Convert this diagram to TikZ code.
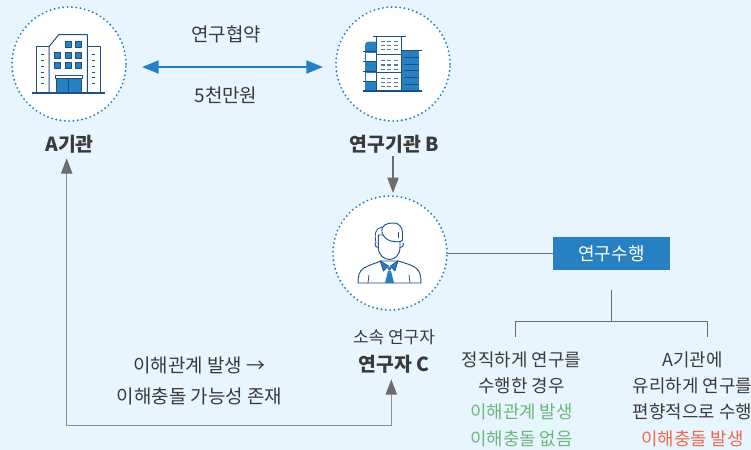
\documentclass[tikz,border=0pt]{standalone}
\usepackage{xcolor}
\usepackage{fontspec}
\usetikzlibrary{arrows.meta}
\setmainfont{Noto Sans CJK KR}
\definecolor{skybg}{HTML}{E7F5FE}
\definecolor{iconblue}{HTML}{2680C2}
\definecolor{icondark}{HTML}{1D4F86}
\definecolor{inkgray}{HTML}{3A3A3A}
\definecolor{arrowgray}{HTML}{6C6C70}
\definecolor{linegray}{HTML}{8C8F94}
\definecolor{okgreen}{HTML}{6DB77C}
\definecolor{badred}{HTML}{EE6A4D}
\tikzset{
  hubcircle/.style={circle,fill=white,draw=iconblue,line width=1.6pt,line cap=round,dash pattern=on 0pt off 3.25pt,minimum size=85.5pt,inner sep=0pt},
  plainlabel/.style={align=center,text=inkgray,inner sep=0pt,font=\fontsize{14.2}{23.2}\selectfont},
  blocklabel/.style={align=center,text=inkgray,inner sep=0pt,anchor=north,font=\fontsize{13.4}{19.8}\selectfont},
  boldlabel/.style={align=center,text=inkgray,inner sep=0pt,font=\fontsize{14.5}{18}\selectfont\bfseries},
  smalllabel/.style={align=center,text=inkgray,inner sep=0pt,font=\fontsize{12.7}{15}\selectfont},
  taskbox/.style={fill=iconblue,text=white,minimum width=87.75pt,minimum height=24.75pt,inner sep=0pt,font=\fontsize{13.5}{16}\selectfont},
  bluelink/.style={draw=iconblue,line width=1.5pt,{Triangle[length=12.5pt,width=9.8pt]}-{Triangle[length=12.5pt,width=9.8pt]}},
  graylink/.style={draw=arrowgray,line width=0.9pt,-{Triangle[length=11.5pt,width=8.5pt]}},
  longlink/.style={draw=linegray,line width=0.9pt,{Triangle[length=11.5pt,width=8.5pt,color=arrowgray]}-{Triangle[length=11.5pt,width=8.5pt,color=arrowgray]}},
  thinlink/.style={draw=arrowgray,line width=0.7pt},
  iconline/.style={draw=icondark,line width=0.75pt,fill=white,line join=round},
  iconfill/.style={draw=icondark,line width=0.5pt,fill=iconblue,line join=round}
}
\begin{document}
\begin{tikzpicture}[x=0.75pt,y=0.75pt,yscale=-1,xscale=1]
\useasboundingbox (0,0) rectangle (751,450);
\fill[skybg] (0,0) rectangle (751,450);

%Circles
\node[hubcircle] (circA) at (69,64) {};
\node[hubcircle] (circB) at (393,64) {};
\node[hubcircle] (circC) at (390,253) {};

% Text Node
\node[boldlabel] (lblA) at (69.5,144) {A기관};
\node[boldlabel] (lblB) at (394.5,144) {연구기관 B};
\node[smalllabel] (lblSub) at (394,337) {소속 연구자};
\node[boldlabel] (lblC) at (394,364) {연구자 C};
\node[plainlabel] (txtDeal) at (226,34) {연구협약};
\node[plainlabel] (txtMoney) at (226,95) {5천만원};
\node[plainlabel] (txtRisk) at (199.5,380.5) {이해관계 발생 →\\이해충돌 가능성 존재};
\node[taskbox] (task) at (611.5,253.5) {연구수행};
\node[blocklabel] (txtLeft) at (521.5,351) {정직하게 연구를\\수행한 경우\\\textcolor{okgreen}{이해관계 발생}\\\textcolor{okgreen}{이해충돌 없음}};
\node[blocklabel] (txtRight) at (692.5,351) {A기관에\\유리하게 연구를\\편향적으로 수행\\\textcolor{badred}{이해충돌 발생}};

%Connectors
\draw[bluelink] ([shift={(15,3)}]circA.east) -- ([shift={(-12,3)}]circB.west);
\draw[graylink] ([shift={(-1.5,3)}]lblB.south) -- ([shift={(3,-2)}]circC.north);
\coordinate (lowRun) at (230,425.7);
\draw[longlink] ([shift={(-2.8,5)}]lblA.south) |- (lowRun) -| ([shift={(-2.7,6)}]lblC.south);
\draw[thinlink] (task.west) -- (task.west -| circC.east);
\coordinate (forkTop) at (611.4,290);
\coordinate (forkMid) at (611.4,321.7);
\draw[thinlink] (forkTop) -- (forkMid);
\draw[thinlink] ([shift={(-6.5,-14)}]txtLeft.north) |- (forkMid) -| ([shift={(15.2,-14)}]txtRight.north);

%Building A
\draw[iconline] (36.7,92.7) -- (36.7,46.7) -- (49,46.7) -- (49,92.7) -- cycle;
\draw[iconline] (49,46.7) -- (58.7,34.7) -- (87.3,34.7) -- (87.3,92.7) -- (49,92.7) -- cycle;
\draw[iconline] (87.3,92.7) -- (87.3,46.7) -- (100,46.7) -- (100,92.7) -- cycle;
\foreach \yy in {54,60.3,66.3,72,77.7,83.7}{
  \draw[icondark,line width=0.7pt] (41,\yy) -- (44,\yy);
  \draw[icondark,line width=0.7pt] (92,\yy) -- (95,\yy);
}
\foreach \xx/\yy in {68/44.5,78/44.5,57.5/55,68/55,78/55,57.5/65.5,68/65.5,78/65.5}{
  \draw[iconfill] (\xx-3,\yy-3) rectangle (\xx+3,\yy+3);
}
\draw[iconline] (55.3,75.3) rectangle (82,78.7);
\draw[iconfill] (56.7,78.7) rectangle (81,92.7);
\draw[icondark,line width=0.5pt] (68.5,78.7) -- (68.5,92.7);
\draw[icondark,line width=1pt] (32.3,93) -- (105,93);

%Building B
\fill[iconblue] (365,91) -- (365,45) .. controls (365,42.5) and (367,41.7) .. (369,41.7) -- (377,41.7) -- (377,91) -- cycle;
\fill[white] (366,52.7) rectangle (376,61);
\fill[white] (366,72.7) rectangle (376,81);
\foreach \yy in {51.7,61.7,71.3,81.3}{
  \draw[icondark,line width=0.6pt] (362.7,\yy) -- (377,\yy);
}
\fill[iconblue] (401.7,50.7) rectangle (419.3,91);
\foreach \yy in {57.3,64,70.7,77.3,84}{
  \draw[icondark,line width=0.6pt] (404,\yy) -- (419.3,\yy);
}
\draw[icondark,line width=0.8pt] (401.7,50.7) -- (421.7,50.7);
\draw[iconline] (376.7,36.7) rectangle (401.7,54.3);
\draw[iconline] (376.7,54.3) rectangle (401.7,72.7);
\draw[iconline] (376.7,72.7) rectangle (401.7,91);
\draw[icondark,line width=0.8pt] (372.7,36.7) -- (406,36.7);
\foreach \yy in {41.3,45.3,49.7,60.7,65,69.3,78.3,82.7,86.7}{
  \foreach \xx in {383.3,389.3,395.7}{
    \draw[icondark!75,line width=0.8pt] (\xx-2,\yy) -- (\xx+2,\yy);
  }
}
\draw[icondark,line width=1pt] (362.7,91) -- (421.7,91);

%Person C
\draw[iconline,fill=none,line width=0.7pt] (358,283) .. controls (358,276) and (359,271) .. (364,268) .. controls (369,265) and (376,263) .. (381,261) -- (398,261) .. controls (405,263) and (412,265) .. (416,268) .. controls (420,271) and (421,276) .. (421,283) -- cycle;
\draw[iconline,line width=0.7pt] (378.3,240) -- (378.3,247) .. controls (378.3,255) and (384,259.5) .. (389.5,259.5) .. controls (395,259.5) and (400,255) .. (400,247) -- (400,235) -- (378.3,235) -- cycle;
\draw[iconline,line width=0.7pt] (375.7,243) .. controls (374.5,243) and (374.5,247) .. (378.3,247.5);
\draw[iconline,line width=0.7pt] (402.7,243) .. controls (403.9,243) and (403.9,247) .. (400,247.5);
\draw[iconline,fill=none,line width=0.6pt] (382,227) .. controls (376,228) and (374,233) .. (376,243);
\draw[iconline,line width=0.7pt] (382,232) .. controls (381,225) and (387,223) .. (393,223) .. controls (400,223) and (402.5,228) .. (402.5,233) -- (402.5,240) .. controls (401,242.5) and (396,242) .. (391,241) .. controls (387,240) and (383,237) .. (382,232) -- cycle;
\draw[iconline,line width=0.5pt] (398.5,232) -- (398.5,238);
\draw[iconline,line width=0.6pt] (369,275) -- (368,283);
\draw[iconline,line width=0.6pt] (409,275) -- (410,283);
\fill[iconblue] (385,283) -- (388,271) -- (391,271) -- (394,283) -- cycle;
\draw[iconfill] (380,260.7) -- (388.5,266) -- (383.5,271) -- cycle;
\draw[iconfill] (398,260.7) -- (390.5,266) -- (395,271) -- cycle;
\fill[iconblue] (389.5,268.5) circle (2);
\end{tikzpicture}
\end{document}
